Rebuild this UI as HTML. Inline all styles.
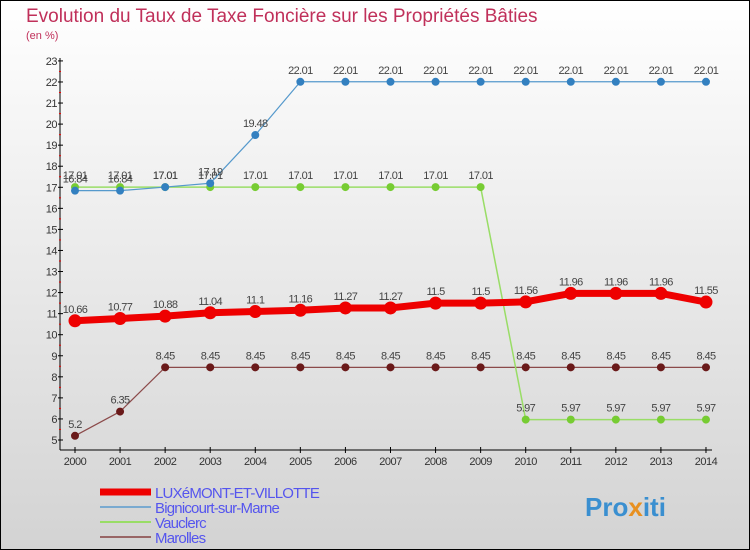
<!DOCTYPE html>
<html><head><meta charset="utf-8"><style>
html,body{margin:0;padding:0}
body{width:750px;height:550px;overflow:hidden;font-family:"Liberation Sans",sans-serif}
svg{display:block}
</style></head><body>
<svg id="c" width="750" height="550" xmlns="http://www.w3.org/2000/svg">
<defs><linearGradient id="bg" x1="0" y1="0" x2="0" y2="1"><stop offset="0" stop-color="#ffffff"/><stop offset="1" stop-color="#d3d3d3"/></linearGradient></defs>
<rect x="0.5" y="0.5" width="749" height="549" fill="url(#bg)" stroke="#000"/>
<text x="26" y="22" font-size="19" fill="#c0305a">Evolution du Taux de Taxe Foncière sur les Propriétés Bâties</text>
<text x="26" y="39" font-size="11" fill="#c0305a">(en %)</text>
<g id="axes"></g>
<g id="series"></g>
<g id="legend"></g>
<text x="585" y="516" font-size="26" font-weight="bold" fill="#3a8fd0">Pro<tspan fill="#e89020">x</tspan>iti</text>
</svg>
<script>
const years=[2000,2001,2002,2003,2004,2005,2006,2007,2008,2009,2010,2011,2012,2013,2014];
const luxemont=[10.66,10.77,10.88,11.04,11.1,11.16,11.27,11.27,11.5,11.5,11.56,11.96,11.96,11.96,11.55];
const bignicourt=[16.84,16.84,17.01,17.19,19.48,22.01,22.01,22.01,22.01,22.01,22.01,22.01,22.01,22.01,22.01];
const vauclerc=[17.01,17.01,17.01,17.01,17.01,17.01,17.01,17.01,17.01,17.01,5.97,5.97,5.97,5.97,5.97];
const marolles=[5.2,6.35,8.45,8.45,8.45,8.45,8.45,8.45,8.45,8.45,8.45,8.45,8.45,8.45,8.45];
const yTicks=[5,6,7,8,9,10,11,12,13,14,15,16,17,18,19,20,21,22,23];
const NS="http://www.w3.org/2000/svg";
const X=i=>75+i*45.07;
const Y=v=>440-(v-5)*21.06;
function mk(tag,attrs,parent,text){const e=document.createElementNS(NS,tag);for(const k in attrs)e.setAttribute(k,attrs[k]);if(text!==undefined)e.textContent=text;parent.appendChild(e);return e;}
const ax=document.getElementById('axes');
let a=mk('line',{x1:60,y1:58,x2:60,y2:450,stroke:'#000','stroke-width':1},ax);


a=mk('line',{x1:60,y1:450,x2:712,y2:450,stroke:'#000','stroke-width':1},ax);


yTicks.forEach(v=>{
 mk('line',{x1:58,y1:Y(v),x2:63,y2:Y(v),stroke:'#000'},ax);
 if(v<23)mk('line',{x1:59,y1:Y(v+0.5),x2:61,y2:Y(v+0.5),stroke:'#e00'},ax);
 const t=mk('text',{x:57,y:Y(v)+4,'font-size':11,'text-anchor':'end',fill:'#333','letter-spacing':'-0.5'},ax,String(v));
 
 
});
years.forEach((y,i)=>{
 mk('line',{x1:X(i),y1:447,x2:X(i),y2:453,stroke:'#000'},ax);
 const t=mk('text',{x:X(i),y:465,'font-size':11,'text-anchor':'middle',fill:'#333','letter-spacing':'-0.5'},ax,String(y));
 
 
});
const sg=document.getElementById('series');
function series(vals,color,lw,r,name,dark){
 const g=mk('g',{},sg);
 
 
 mk('polyline',{points:vals.map((v,i)=>X(i)+','+Y(v)).join(' '),fill:'none',stroke:color,'stroke-width':lw,'stroke-linejoin':'round'},g);
 vals.forEach((v,i)=>{
  const c=mk('circle',{cx:X(i),cy:Y(v),r:r,fill:dark,stroke:dark},g);
  
  
  const t=mk('text',{x:X(i),y:Y(v)-8,'font-size':11,'text-anchor':'middle',fill:'#444','letter-spacing':'-0.6'},g,String(v));
  
  
 });
}
series(marolles,'#8b4a4a',1.2,3.5,'series-marolles','#6a1a1a');
series(vauclerc,'#99dd66',1.5,3.5,'series-vauclerc','#77cc33');
series(bignicourt,'#5599cc',1.2,3.5,'series-bignicourt','#3380c0');
series(luxemont,'#ee0000',7,6,'series-luxemont','#ee0000');
const lg=document.getElementById('legend');
const items=[['LUXéMONT-ET-VILLOTTE','#ee0000',7,493],['Bignicourt-sur-Marne','#7aaad0',2,508],['Vauclerc','#99dd66',2,523],['Marolles','#996666',2,538]];
items.forEach(it=>{
 const g=mk('g',{},lg);
 
 
 mk('line',{x1:100,y1:it[3]-1,x2:151,y2:it[3]-1,stroke:it[1],'stroke-width':it[2]},g);
 mk('text',{x:155,y:it[3]+5,'font-size':15,fill:'#5555ee','letter-spacing':'-0.8'},g,it[0]);
});
</script>
</body></html>
